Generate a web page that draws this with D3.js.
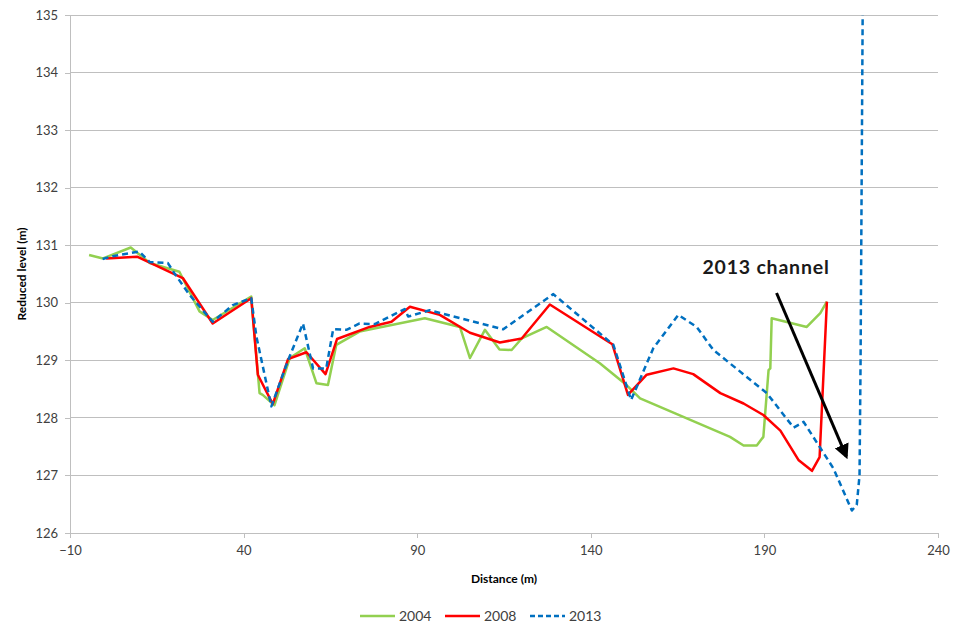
<!DOCTYPE html>
<html>
<head>
<meta charset="utf-8">
<script src="https://cdn.jsdelivr.net/npm/d3@7"></script>
<style>
  html, body { margin: 0; padding: 0; background: #fff; }
  svg { display: block; font-family: Lato, "Open Sans", sans-serif; }
</style>
</head>
<body>
<svg id="chart" width="954" height="628"></svg>
<script>
// ---- data ----
const xTicks = [-10, 40, 90, 140, 190, 240];
const yTicks = [126, 127, 128, 129, 130, 131, 132, 133, 134, 135];
const seriesNames = ["2004", "2008", "2013"];
const seriesColors = ["#92d050", "#ff0000", "#0070c0"];

const d2004x = [-4.5, -0.5, 7.5, 13, 21.5, 27.3, 31.1, 42.2, 44.6, 45.5, 48.9, 53.3, 57.6, 61, 64.3, 66.7, 73.4, 92.2, 102.3, 105.2, 109.5, 113.7, 117.2, 120.1, 127.3, 142.6, 150.3, 154.2, 180.1, 184, 187.8, 189.7, 191.2, 191.7, 192.1, 202.2, 206.1, 208];
const d2004y = [130.83, 130.77, 130.96, 130.69, 130.54, 129.85, 129.70, 130.11, 128.43, 128.40, 128.22, 129.04, 129.21, 128.60, 128.57, 129.27, 129.50, 129.73, 129.58, 129.04, 129.53, 129.19, 129.18, 129.38, 129.58, 128.95, 128.57, 128.34, 127.67, 127.52, 127.52, 127.67, 128.83, 128.86, 129.73, 129.58, 129.82, 130.02];

const d2008x = [0.4, 9.3, 22.5, 31.1, 42.2, 44.1, 48.4, 52.8, 58.1, 63.6, 66.9, 76.3, 82.6, 87.9, 96.5, 105.2, 113.8, 120.1, 128.2, 146.2, 150.7, 156.1, 163.8, 169.5, 177.3, 184, 189.7, 194.6, 199.8, 203.7, 205.9, 208];
const d2008y = [130.77, 130.80, 130.43, 129.64, 130.08, 128.75, 128.24, 129.02, 129.14, 128.76, 129.37, 129.58, 129.67, 129.93, 129.79, 129.48, 129.31, 129.38, 129.97, 129.28, 128.40, 128.75, 128.86, 128.76, 128.43, 128.25, 128.05, 127.78, 127.27, 127.08, 127.32, 130.02];

const d2013x = [-0.6, 2.3, 10, 12.9, 18.2, 20.1, 24.4, 31.1, 36.9, 42.2, 43.7, 48, 52.8, 57.1, 60, 63.8, 65.8, 69.6, 73.4, 77.8, 86.4, 87.4, 93.6, 114.8, 129.2, 146.5, 151.6, 158, 165.2, 170.5, 175.3, 190.7, 198.4, 201.3, 209.9, 215.2, 216.6, 217.4, 217.7, 218.3];
const d2013y = [130.76, 130.81, 130.89, 130.71, 130.69, 130.51, 130.14, 129.67, 129.96, 130.08, 129.41, 128.20, 129.00, 129.64, 128.86, 128.86, 129.54, 129.53, 129.64, 129.63, 129.89, 129.76, 129.87, 129.54, 130.15, 129.27, 128.31, 129.21, 129.79, 129.58, 129.18, 128.43, 127.83, 127.93, 127.12, 126.39, 126.49, 127.0, 129.0, 135.0];

const annotationText = "2013 channel";
const arrowFrom = [193.5, 130.17];
const arrowTo = [213.6, 127.33];

// ---- layout ----
const W = 954, H = 628;
const m = { left: 70, right: 16, top: 15, bottom: 95 };
const iw = W - m.left - m.right, ih = H - m.top - m.bottom;

const svg = d3.select("#chart");
const x = d3.scaleLinear().domain([-10, 240]).range([m.left, m.left + iw]);
const y = d3.scaleLinear().domain([126, 135]).range([m.top + ih, m.top]);

// gridlines
svg.append("g").selectAll("line").data(yTicks.filter(d => d > 126)).join("line")
  .attr("x1", m.left).attr("x2", m.left + iw)
  .attr("y1", d => y(d)).attr("y2", d => y(d))
  .attr("stroke", "#bfbfbf").attr("stroke-width", 1).attr("shape-rendering", "crispEdges");

// axes
const yAxis = svg.append("g").attr("transform", `translate(${m.left},0)`)
  .call(d3.axisLeft(y).tickValues(yTicks).tickSize(5).tickPadding(7).tickFormat(d3.format("d")));
const xAxis = svg.append("g").attr("transform", `translate(0,${m.top + ih})`)
  .call(d3.axisBottom(x).tickValues(xTicks).tickSize(5).tickPadding(8).tickFormat(d3.format("d")));
[yAxis, xAxis].forEach(a => {
  a.select(".domain").attr("stroke", "#bfbfbf").attr("shape-rendering", "crispEdges");
  a.selectAll(".tick line").attr("stroke", "#bfbfbf").attr("shape-rendering", "crispEdges");
  a.selectAll(".tick text").attr("fill", "#404040").attr("font-size", 13).attr("font-family", "Lato, sans-serif");
});
yAxis.select(".domain").attr("d", `M-5,${m.top + ih}H0V${m.top}H-5`);

// axis titles
svg.append("text").attr("x", (m.left + m.left + iw) / 2).attr("y", 583)
  .attr("text-anchor", "middle").attr("font-size", 12).attr("font-weight", "bold").attr("fill", "#000")
  .text("Distance (m)");
svg.append("text").attr("transform", `translate(26,${m.top + ih / 2}) rotate(-90)`)
  .attr("text-anchor", "middle").attr("font-size", 12).attr("font-weight", "bold").attr("fill", "#000")
  .text("Reduced level (m)");

// lines
const line = d3.line().x(d => x(d[0])).y(d => y(d[1]));
const series = [
  { name: seriesNames[0], pts: d3.zip(d2004x, d2004y), color: seriesColors[0], dash: null },
  { name: seriesNames[1], pts: d3.zip(d2008x, d2008y), color: seriesColors[1], dash: null },
  { name: seriesNames[2], pts: d3.zip(d2013x, d2013y), color: seriesColors[2], dash: "6,4" }
];
svg.append("g").selectAll("path").data(series).join("path")
  .attr("d", d => line(d.pts))
  .attr("fill", "none")
  .attr("stroke", d => d.color)
  .attr("stroke-width", 2.5)
  .attr("stroke-linejoin", "round")
  .attr("stroke-dasharray", d => d.dash);

// annotation
svg.append("defs").append("marker").attr("id", "arrowhead")
  .attr("viewBox", "0 0 10 10").attr("refX", 8).attr("refY", 5)
  .attr("markerWidth", 5).attr("markerHeight", 5).attr("orient", "auto")
  .append("path").attr("d", "M0,0L10,5L0,10z").attr("fill", "#000");
svg.append("line")
  .attr("x1", x(arrowFrom[0])).attr("y1", y(arrowFrom[1]))
  .attr("x2", x(arrowTo[0])).attr("y2", y(arrowTo[1]))
  .attr("stroke", "#000").attr("stroke-width", 3).attr("marker-end", "url(#arrowhead)");
svg.append("text").attr("x", 766).attr("y", 274).attr("text-anchor", "middle")
  .attr("font-size", 19.5).attr("font-weight", "bold").attr("letter-spacing", 0.8).attr("fill", "#1a1a1a")
  .text(annotationText);

// legend
const legend = svg.append("g");
const lx = [360, 445, 530];
series.forEach((s, i) => {
  legend.append("line").attr("x1", lx[i]).attr("x2", lx[i] + 35).attr("y1", 616).attr("y2", 616)
    .attr("stroke", s.color).attr("stroke-width", 2.5).attr("stroke-dasharray", s.dash ? "5,3" : null);
  legend.append("text").attr("x", lx[i] + 39).attr("y", 621)
    .attr("font-size", 14).attr("fill", "#404040").text(s.name);
});
</script>
</body>
</html>
